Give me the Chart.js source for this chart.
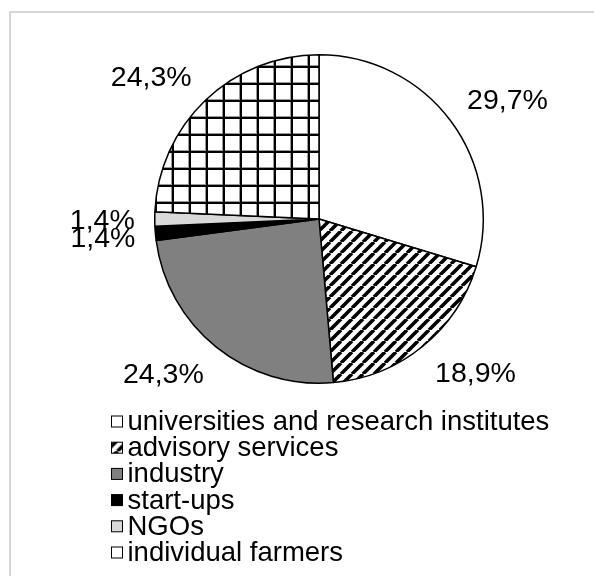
<!DOCTYPE html>
<html>
<head>
<meta charset="utf-8">
<script src="https://cdn.jsdelivr.net/npm/chart.js@4.4.1/dist/chart.umd.min.js"></script>
<style>
  html, body { margin: 0; padding: 0; background: #fff; overflow: hidden; }
  #wrap { width: 594px; height: 576px; }
</style>
</head>
<body>
<div id="wrap"><canvas id="chart" width="594" height="576"></canvas></div>
<script>
// Share of respondents by stakeholder group (%)
const categories = [
  'universities and research institutes',
  'advisory services',
  'industry',
  'start-ups',
  'NGOs',
  'individual farmers'
];
const shares = [29.7, 18.9, 24.3, 1.4, 1.4, 24.3];

const FONT = '"Liberation Sans", Arial, "DejaVu Sans", sans-serif';
const fmtShare = v => v.toFixed(1).replace('.', ',') + '%';

// Diagonal "/" hatching, black on white
function stripePattern() {
  const s = 11;
  const c = document.createElement('canvas');
  c.width = c.height = s;
  const g = c.getContext('2d');
  g.fillStyle = '#fff';
  g.fillRect(0, 0, s, s);
  g.strokeStyle = '#000';
  g.lineWidth = 3.6;
  g.beginPath();
  for (const k of [-1, 0, 1]) {
    g.moveTo(k * s, s);
    g.lineTo(k * s + s, 0);
  }
  g.stroke();
  return g.createPattern(c, 'repeat');
}

// Square grid, black lines on white
function gridPattern() {
  const s = 17;
  const c = document.createElement('canvas');
  c.width = c.height = s;
  const g = c.getContext('2d');
  g.fillStyle = '#fff';
  g.fillRect(0, 0, s, s);
  g.fillStyle = '#999';
  g.fillRect(1, 0, 1, s);
  g.fillRect(0, 14, s, 1);
  g.fillStyle = '#000';
  g.fillRect(2, 0, 2, s);
  g.fillRect(0, 15, s, 2);
  return g.createPattern(c, 'repeat');
}

const fills = ['#ffffff', stripePattern(), '#808080', '#000000', '#d9d9d9', gridPattern()];

// Light frame around the figure
const framePlugin = {
  id: 'frame',
  beforeDraw(chart) {
    const ctx = chart.ctx;
    ctx.save();
    ctx.strokeStyle = '#d6d6d6';
    ctx.lineWidth = 2;
    ctx.strokeRect(10, 12, 800, 800);
    ctx.restore();
  }
};

// Percentage labels just outside each slice
const outsideLabels = {
  id: 'outsideLabels',
  afterDatasetsDraw(chart) {
    const ctx = chart.ctx;
    const size = 28.5;
    const gap = 20;
    const capH = size * 0.716;
    const meta = chart.getDatasetMeta(0);
    ctx.save();
    ctx.font = `${size}px ${FONT}`;
    ctx.fillStyle = '#000';
    ctx.textAlign = 'center';
    ctx.textBaseline = 'alphabetic';
    const clamp = v => Math.max(-1, Math.min(1, v));
    meta.data.forEach((arc, i) => {
      const p = arc.getProps(['x', 'y', 'startAngle', 'endAngle', 'outerRadius'], true);
      const mid = (p.startAngle + p.endAngle) / 2;
      const dx = Math.cos(mid), dy = Math.sin(mid);
      const px = p.x + dx * (p.outerRadius + gap);
      const py = p.y + dy * (p.outerRadius + gap);
      const text = fmtShare(shares[i]);
      const w = ctx.measureText(text).width;
      const cx = px + (w / 2) * clamp(2 * dx);
      const cy = py + (capH / 2) * clamp(2 * dy);
      ctx.fillText(text, cx, cy + capH / 2);
    });
    ctx.restore();
  }
};

// Single-column legend below the pie
const columnLegend = {
  id: 'columnLegend',
  afterDraw(chart) {
    const ctx = chart.ctx;
    const area = chart.chartArea;
    const size = 27.5;
    const rowH = 26.2;
    const box = 11;
    const left = 111.5;
    const firstRow = area.bottom + 37.5;
    const bg = chart.data.datasets[0].backgroundColor;
    ctx.save();
    ctx.font = `${size}px ${FONT}`;
    ctx.textBaseline = 'middle';
    ctx.textAlign = 'left';
    chart.data.labels.forEach((label, i) => {
      const cy = firstRow + i * rowH;
      const top = cy - box / 2;
      // anchor the fill's pattern tile to the swatch itself
      ctx.save();
      ctx.translate(left - 5, top - 2);
      ctx.fillStyle = bg[i];
      ctx.fillRect(5, 2, box, box);
      ctx.restore();
      ctx.strokeStyle = '#000';
      ctx.lineWidth = 1;
      ctx.strokeRect(left, top, box, box);
      ctx.fillStyle = '#000';
      ctx.fillText(label, left + box + 5, cy + 1);
    });
    ctx.restore();
  }
};

new Chart(document.getElementById('chart'), {
  type: 'pie',
  data: {
    labels: categories,
    datasets: [{
      data: shares,
      backgroundColor: fills,
      borderColor: '#000',
      borderWidth: 1.5
    }]
  },
  options: {
    responsive: false,
    devicePixelRatio: 1,
    animation: false,
    layout: { padding: { left: 100, right: 56, top: 54, bottom: 192 } },
    plugins: {
      legend: { display: false },
      tooltip: { enabled: false }
    }
  },
  plugins: [framePlugin, outsideLabels, columnLegend]
});
</script>
</body>
</html>
